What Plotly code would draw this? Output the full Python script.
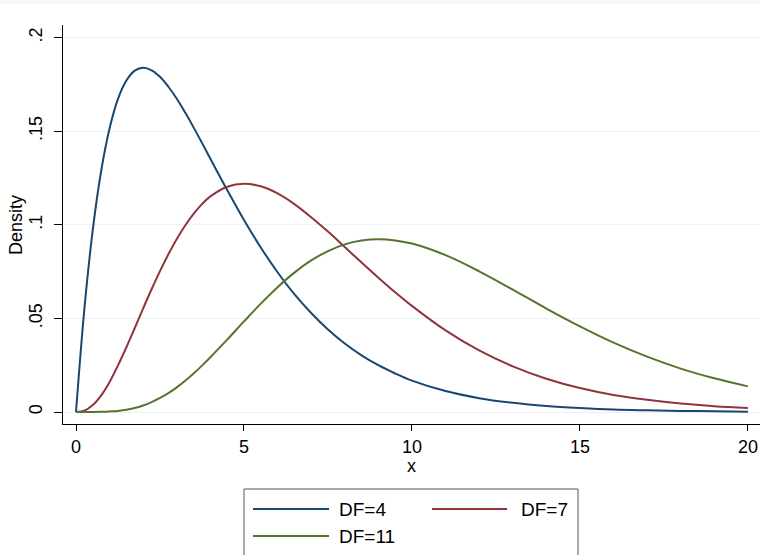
import plotly.graph_objects as go

# ---- data (chi-square densities) ----
x_vals = [0, 0.25, 0.5, 0.75, 1, 1.25, 1.5, 1.75, 2, 2.25, 2.5, 2.75, 3, 3.25, 3.5, 3.75, 4,
          4.5, 5, 5.5, 6, 6.5, 7, 7.5, 8, 8.5, 9, 9.5, 10,
          11, 12, 13, 14, 15, 16, 17, 18, 19, 20]
df4 = [0, 0.0552, 0.0974, 0.1289, 0.1516, 0.1673, 0.1771, 0.1824, 0.1839, 0.1826, 0.1791, 0.1738,
       0.1674, 0.1600, 0.1521, 0.1438, 0.1353,
       0.1186, 0.1026, 0.0879, 0.0747, 0.0630, 0.0529, 0.0441, 0.0366, 0.0303, 0.0250, 0.0206, 0.0168,
       0.0112, 0.0074, 0.0049, 0.0032, 0.0021, 0.0013, 0.0009, 0.0006, 0.0004, 0.0002]
df7 = [0, 0.0007, 0.0037, 0.0089, 0.0161, 0.0249, 0.0346, 0.0449, 0.0554, 0.0656, 0.0753, 0.0843,
       0.0925, 0.0997, 0.1059, 0.1111, 0.1152,
       0.1204, 0.1220, 0.1206, 0.1168, 0.1111, 0.1041, 0.0964, 0.0882, 0.0799, 0.0718, 0.0640, 0.0567,
       0.0436, 0.0329, 0.0244, 0.0178, 0.0128, 0.0091, 0.0065, 0.0045, 0.0031, 0.0022]
df11 = [0, 0.0000, 0.0000, 0.0001, 0.0003, 0.0006, 0.0012, 0.0022, 0.0035, 0.0053, 0.0075, 0.0101,
        0.0132, 0.0167, 0.0206, 0.0248, 0.0293,
        0.0387, 0.0484, 0.0579, 0.0667, 0.0745, 0.0810, 0.0860, 0.0896, 0.0916, 0.0923, 0.0917, 0.0900,
        0.0838, 0.0752, 0.0654, 0.0553, 0.0458, 0.0371, 0.0296, 0.0232, 0.0180, 0.0137]
series_names = ["DF=4", "DF=7", "DF=11"]
series_vals = [df4, df7, df11]
colors = ["#1a476f", "#90353b", "#55752f"]
y_tickvals = [0, 0.05, 0.1, 0.15, 0.2]
y_ticktext = ["0", ".05", ".1", ".15", ".2"]
x_tickvals = [0, 5, 10, 15, 20]
x_ticktext = ["0", "5", "10", "15", "20"]

W, H = 760, 555
ML, MR, MT, MB = 63, 0, 25, 131
PW, PH = W - ML - MR, H - MT - MB


def px_x(p):
    return (p - ML) / PW


def px_y(p):
    return (H - MB - p) / PH


FONT = "Liberation Sans, Arial, Helvetica, sans-serif"

fig = go.Figure()
for name, vals, c in zip(series_names, series_vals, colors):
    fig.add_trace(go.Scatter(x=x_vals, y=vals, mode="lines", name=name,
                             line=dict(color=c, width=2, shape="spline", smoothing=1.0),
                             showlegend=False))

fig.update_layout(
    width=W, height=H,
    margin=dict(l=ML, r=MR, t=MT, b=MB),
    paper_bgcolor="white", plot_bgcolor="white",
    font=dict(family=FONT, size=18, color="black"),
    xaxis=dict(range=[-0.387, 20.36], tickvals=x_tickvals, ticktext=x_ticktext,
               showgrid=False, zeroline=False, showline=True, linecolor="black", linewidth=1,
               ticks="outside", ticklen=6, tickcolor="black", tickfont=dict(size=18)),
    yaxis=dict(range=[-0.0064, 0.2068], tickvals=y_tickvals, ticktext=y_ticktext,
               showgrid=True, gridcolor="#eaf2f3", gridwidth=1, zeroline=False,
               showline=True, linecolor="black", linewidth=1,
               ticks="outside", ticklen=8, tickcolor="black", tickangle=-90,
               tickfont=dict(size=18), ticklabelstandoff=5),
)

ann = []
ann.append(dict(text="x", xref="paper", yref="paper", x=px_x(411), y=px_y(466),
                showarrow=False, font=dict(size=18), xanchor="center", yanchor="middle"))
ann.append(dict(text="Density", xref="paper", yref="paper", x=px_x(16), y=px_y(225),
                showarrow=False, font=dict(size=18), textangle=-90,
                xanchor="center", yanchor="middle"))

shapes = []
# top light band
shapes.append(dict(type="rect", xref="paper", yref="paper", x0=px_x(0), x1=px_x(W),
                   y0=px_y(4), y1=px_y(0), fillcolor="#f7f7f7", line=dict(width=0), layer="below"))
# legend box
shapes.append(dict(type="rect", xref="paper", yref="paper", x0=px_x(244), x1=px_x(578),
                   y0=px_y(560), y1=px_y(489), fillcolor="rgba(0,0,0,0)",
                   line=dict(color="#555555", width=1)))
leg_pos = [(253, 329, 509, 337), (432, 507, 509, 519), (253, 329, 536, 337)]
for (x0, x1, yy, tx), name, c in zip(leg_pos, series_names, colors):
    shapes.append(dict(type="line", xref="paper", yref="paper", x0=px_x(x0), x1=px_x(x1),
                       y0=px_y(yy), y1=px_y(yy), line=dict(color=c, width=2)))
    ann.append(dict(text=name, xref="paper", yref="paper", x=px_x(tx), y=px_y(yy),
                    showarrow=False, font=dict(size=19), xanchor="left", yanchor="middle"))

fig.update_layout(annotations=ann, shapes=shapes)
fig.write_html("out.html", config={"displayModeBar": False},
               post_script="document.body.style.margin='0';document.body.style.padding='0';"
                           "document.body.style.overflow='hidden';")
